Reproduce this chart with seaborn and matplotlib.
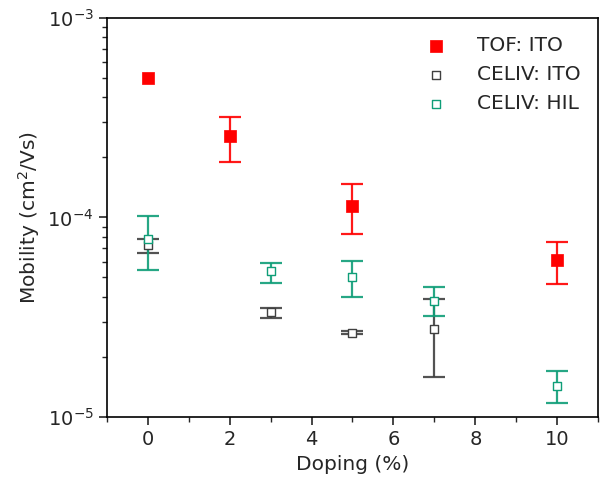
import numpy as np
import pandas as pd
import matplotlib
matplotlib.use("Agg")
import matplotlib.pyplot as plt
import seaborn as sns
from matplotlib.ticker import MultipleLocator, LogLocator, NullFormatter

# TOF: ITO
tof_x = [0, 2, 5, 10]
tof_y = [5.0e-4, 2.56e-4, 1.14e-4, 6.1e-5]
tof_lo = [5.0e-4, 1.90e-4, 8.3e-5, 4.65e-5]
tof_hi = [5.0e-4, 3.2e-4, 1.47e-4, 7.55e-5]

# CELIV: ITO
cito_x = [0, 3, 5, 7]
cito_y = [7.3e-5, 3.36e-5, 2.64e-5, 2.76e-5]
cito_lo = [6.6e-5, 3.14e-5, 2.6e-5, 1.59e-5]
cito_hi = [7.8e-5, 3.5e-5, 2.7e-5, 3.91e-5]

# CELIV: HIL
chil_x = [0, 3, 5, 7, 10]
chil_y = [7.8e-5, 5.4e-5, 5.04e-5, 3.83e-5, 1.43e-5]
chil_lo = [5.46e-5, 4.7e-5, 4.0e-5, 3.22e-5, 1.17e-5]
chil_hi = [1.02e-4, 5.91e-5, 6.05e-5, 4.49e-5, 1.69e-5]

sns.set_style("white")
plt.rcParams["font.family"] = ["DejaVu Sans"]

fig, ax = plt.subplots(figsize=(6.0, 4.87), dpi=100)

series = [
    ("TOF: ITO", tof_x, tof_y, tof_lo, tof_hi, "#ff0000", True, 64),
    ("CELIV: ITO", cito_x, cito_y, cito_lo, cito_hi, "#404040", False, 30),
    ("CELIV: HIL", chil_x, chil_y, chil_lo, chil_hi, "#0f9e78", False, 30),
]

for label, x, y, lo, hi, col, filled, s in series:
    y = np.array(y); lo = np.array(lo); hi = np.array(hi)
    x = np.array(x, dtype=float)
    has_err = hi > lo
    ax.errorbar(x[has_err], y[has_err],
                yerr=[(y - lo)[has_err], (hi - y)[has_err]], fmt="none", ecolor=col,
                elinewidth=1.6, capsize=8, capthick=1.6, alpha=0.9, zorder=2)
    df = pd.DataFrame({"x": x, "y": y})
    if filled:
        sns.scatterplot(data=df, x="x", y="y", ax=ax, marker="s", s=s,
                        color=col, edgecolor=col, linewidth=0.5, label=label, zorder=3)
    else:
        sns.scatterplot(data=df, x="x", y="y", ax=ax, marker="s", s=s,
                        facecolor="white", edgecolor=col, linewidth=1.0,
                        label=label, zorder=3)

ax.set_yscale("log")
ax.set_ylim(1e-5, 1e-3)
ax.set_xlim(-1, 11)
ax.xaxis.set_major_locator(MultipleLocator(2))
ax.xaxis.set_minor_locator(MultipleLocator(1))
ax.yaxis.set_major_locator(LogLocator(base=10, numticks=10))
ax.yaxis.set_minor_locator(LogLocator(base=10, subs=np.arange(2, 10), numticks=20))
ax.yaxis.set_minor_formatter(NullFormatter())

ax.tick_params(axis="both", which="major", direction="out", length=6, width=1.2,
               labelsize=14, left=True, bottom=True, top=False, right=False)
ax.tick_params(axis="both", which="minor", direction="out", length=3.5, width=1.0,
               left=True, bottom=True, top=False, right=False)
for sp in ax.spines.values():
    sp.set_visible(True)
    sp.set_color("black")
    sp.set_linewidth(1.2)

ax.set_xlabel("Doping (%)", fontsize=14.5)
ax.set_ylabel("Mobility (cm$^2$/Vs)", fontsize=14.5)

leg = ax.legend(loc="upper right", bbox_to_anchor=(0.98, 0.975), fontsize=14.5,
                frameon=False, handletextpad=1.0, labelspacing=0.5,
                borderaxespad=0.0)

fig.subplots_adjust(left=0.178, right=0.997, top=0.963, bottom=0.144)
fig.savefig("out.png", dpi=100)
